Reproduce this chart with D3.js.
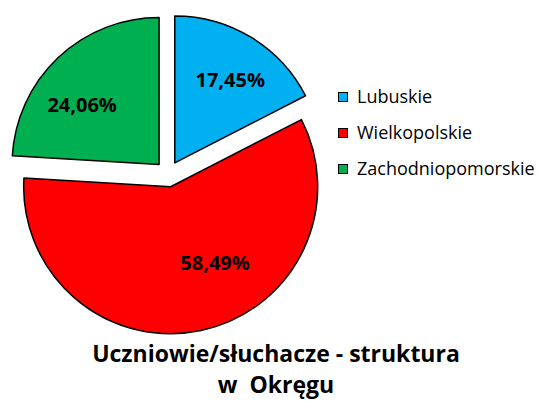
<!DOCTYPE html>
<html>
<head>
<meta charset="utf-8">
<script src="https://cdn.jsdelivr.net/npm/d3@7"></script>
<style>
  body { margin: 0; background: #fff; }
  svg { display: block; font-family: "Open Sans", "DejaVu Sans", sans-serif; }
</style>
</head>
<body>
<div id="chart"></div>
<script>
const regions = ["Lubuskie", "Wielkopolskie", "Zachodniopomorskie"];
const shares = [17.45, 58.49, 24.06];
const colors = ["#00B0F0", "#FF0000", "#00B050"];
const titleLines = ["Uczniowie/słuchacze - struktura", "w  Okręgu"];

const width = 539, height = 401;
const radius = 147, explode = 13;
const cx = 168, cy = 174;

const svg = d3.select("#chart").append("svg")
    .attr("width", width)
    .attr("height", height);

const pie = d3.pie().sort(null).value(d => d);
const arc = d3.arc().innerRadius(0).outerRadius(radius);
// where the value labels sit, as fraction of radius and a small angle nudge (radians)
const labelR = [0.68, 0.6, 0.66];
const labelNudge = [0.04, -0.32, -0.16];

const slices = pie(shares);

const g = svg.append("g").attr("transform", `translate(${cx},${cy})`);

const slice = g.selectAll(".slice")
    .data(slices)
    .enter()
    .append("g")
    .attr("class", "slice")
    .attr("transform", d => {
        const a = (d.startAngle + d.endAngle) / 2;
        return `translate(${Math.sin(a) * explode},${-Math.cos(a) * explode})`;
    });

slice.append("path")
    .attr("d", arc)
    .attr("fill", (d, i) => colors[i])
    .attr("stroke", "#000")
    .attr("stroke-width", 1.5)
    .attr("stroke-linejoin", "round");

slice.append("text")
    .attr("x", (d, i) => Math.sin((d.startAngle + d.endAngle) / 2 + labelNudge[i]) * radius * labelR[i])
    .attr("y", (d, i) => -Math.cos((d.startAngle + d.endAngle) / 2 + labelNudge[i]) * radius * labelR[i])
    .attr("dy", "0.35em")
    .attr("text-anchor", "middle")
    .style("font-size", "20px")
    .style("font-weight", "bold")
    .text(d => d.value.toFixed(2).replace(".", ",") + "%");

const legend = svg.selectAll(".legend")
    .data(regions)
    .enter()
    .append("g")
    .attr("class", "legend")
    .attr("transform", (d, i) => `translate(338,${97 + i * 36})`);

legend.append("rect")
    .attr("x", 0.5)
    .attr("y", -4.5)
    .attr("width", 9)
    .attr("height", 9)
    .attr("fill", (d, i) => colors[i])
    .attr("stroke", "#000")
    .attr("stroke-width", 1);

legend.append("text")
    .attr("x", 19)
    .attr("dy", "0.35em")
    .style("font-size", "18px")
    .text(d => d);

svg.selectAll(".title")
    .data(titleLines)
    .enter()
    .append("text")
    .attr("class", "title")
    .attr("x", 276)
    .attr("y", (d, i) => 362 + i * 31)
    .attr("text-anchor", "middle")
    .style("font-size", "23px")
    .style("font-weight", "bold")
    .style("white-space", "pre")
    .text(d => d);
</script>
</body>
</html>
